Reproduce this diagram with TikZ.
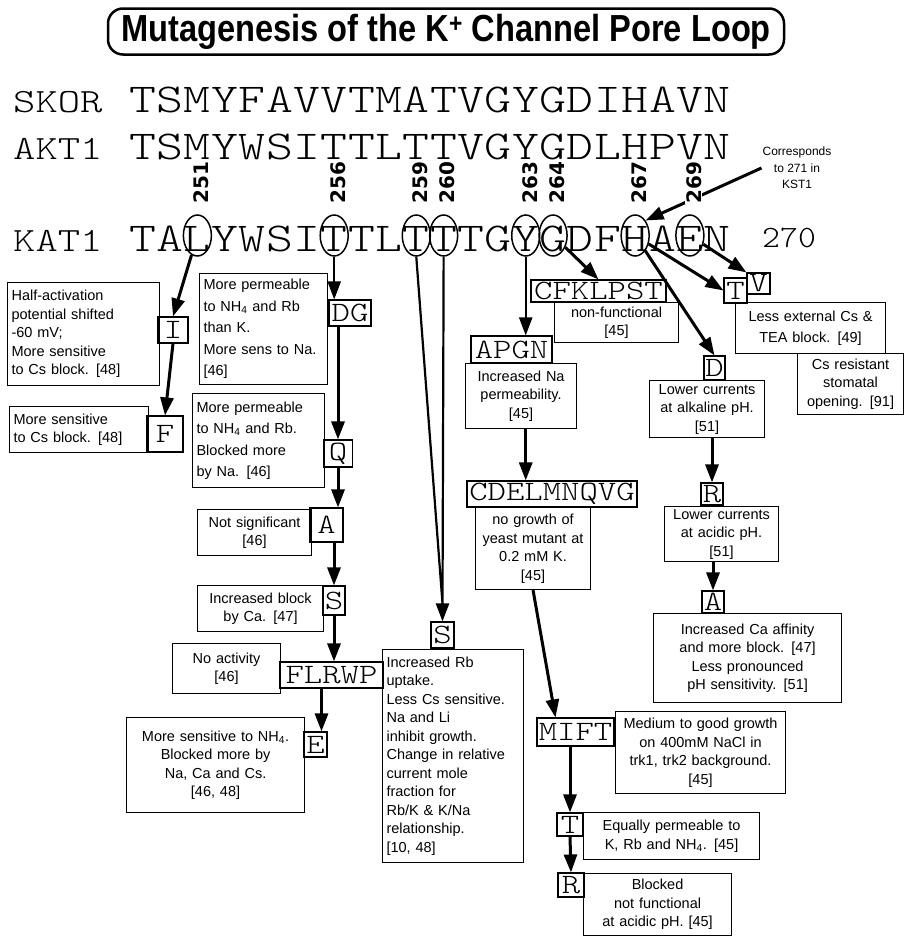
\documentclass[tikz,border=0pt]{standalone}
\usepackage{fontspec}
\usepackage{graphicx}
\setsansfont{Liberation Sans}
\newfontfamily\numfont{DejaVu Sans}
\newfontfamily\seqfont{lmmonolt10-regular.otf}
\usetikzlibrary{arrows.meta,shapes.geometric}
\newcommand\wide[1]{\scalebox{1.25}[1]{#1}}

\begin{document}
\begin{tikzpicture}[x=1pt, y=-1pt,
		res/.style={anchor=base, inner sep=0pt, font=\fontsize{41}{41}\selectfont\seqfont},
		rowname/.style={anchor=base west, inner sep=0pt, font=\fontsize{34}{34}\selectfont\seqfont},
		ring/.style={draw, ellipse, line width=1.5pt, minimum width=28pt, minimum height=41pt, inner sep=0pt},
		resnum/.style={rotate=90, anchor=west, inner sep=1pt, fill=white, font=\numfont\bfseries\fontsize{20}{20}\selectfont},
		mut/.style={draw, line width=1.1pt, inner sep=0pt, font=\fontsize{28}{28}\selectfont\seqfont},
		note/.style={draw, line width=1.1pt, inner xsep=4pt, inner ysep=2pt, anchor=north west, align=center, font=\sffamily\fontsize{14.5}{18.5}\selectfont},
		loose/.style={font=\sffamily\fontsize{14.5}{21.5}\selectfont},
		arr/.style={line width=3pt, -{Triangle[length=18pt, width=13pt]}},
		thinarr/.style={line width=2.2pt, -{Triangle[length=18pt, width=13pt]}}]
	\useasboundingbox (0,0) rectangle (905,937);
	% title
	\node[draw, line width=2.5pt, rounded corners=15pt, minimum width=676pt, minimum height=46pt, inner sep=0pt,
		font=\sffamily\bfseries\fontsize{37.7}{40}\selectfont] (title) at (446,31.5)
		{\scalebox{0.865}[1]{Mutagenesis of the K\textsuperscript{+} Channel Pore Loop}};
	% sequences
	\node[rowname] (skor) at (13,112) {\wide{SKOR}};
	\node[rowname] (akt) at (13,159) {\wide{AKT1}};
	\node[rowname] (kat) at (13,251) {\wide{KAT1}};
	\foreach \c [count=\i] in {T,S,M,Y,F,A,V,V,T,M,A,T,V,G,Y,G,D,I,H,A,V,N}
		\node[res] (skor\i) at ({129+27.36*(\i-0.5)}, 112) {\wide{\c}};
	\foreach \c [count=\i] in {T,S,M,Y,W,S,I,T,T,L,T,T,V,G,Y,G,D,L,H,P,V,N}
		\node[res] (akt\i) at ({129+27.36*(\i-0.5)}, 159) {\wide{\c}};
	\foreach \c [count=\i] in {T,A,L,Y,W,S,I,T,T,L,T,T,T,G,Y,G,D,F,H,A,E,N}
		\node[res] (kat\i) at ({129+27.36*(\i-0.5)}, 251) {\wide{\c}};
	\node[anchor=base west, inner sep=0pt, font=\fontsize{31}{31}\selectfont\seqfont] (last) at (762,247) {\scalebox{1.1}[1]{270}};
	% mutated residues
	\foreach \n in {251,256,259,260,263,264,267,269}
		\node[ring] (e\n) at ({129+27.36*(\n-248.5)}, 235.5) {};
	\node[align=center, inner sep=1pt, font=\sffamily\fontsize{12}{16.5}\selectfont] (corr) at (797,168) {Corresponds\\to 271 in\\KST1};
	\draw[arr] (corr.west) -- (e267.north east);
	\foreach \n in {251,256,259,260,263,264,267,269}
		\node[resnum] (l\n) at ([xshift=4pt, yshift=10pt]e\n.north) {\n};

	% part for 251
	\node[mut, minimum width=30pt, minimum height=26pt] (I251) at (173,330) {\wide{I}};
	\node[note, align=left, text width=144pt, minimum height=103pt] (nI251) at (7,282)
		{Half-activation\\potential shifted\\-60 mV;\\More sensitive\\to Cs block. [48]};
	\node[mut, minimum width=36pt, minimum height=36pt] (F251) at (165,434) {\wide{F}};
	\node[note, align=left, text width=131pt, minimum height=46pt] (nF251) at (9,406)
		{More sensitive\\to Cs block. [48]};
	\draw[arr] (e251) -- (I251.north);
	\draw[arr] (I251.south) -- (F251.north);

	% part for 256
	\node[mut, minimum width=42pt, minimum height=26pt] (DG256) at (350,313) {\wide{DG}};
	\node[note, loose, align=left, text width=120pt, minimum height=111pt] (nDG256) at (199,273)
		{More permeable\\to NH\textsubscript{4} and Rb\\than K.\\More sens to Na.\\{}[46]};
	\node[mut, minimum width=29pt, minimum height=27pt] (Q256) at (338,453.5) {\wide{Q}};
	\node[note, loose, align=left, text width=124pt, minimum height=94pt] (nQ256) at (192,393)
		{More permeable\\to NH\textsubscript{4} and Rb.\\Blocked more\\by Na. [46]};
	\node[mut, minimum width=33pt, minimum height=34pt] (A256) at (326.5,525) {\wide{A}};
	\node[note, text width=106pt, minimum height=46pt] (nA256) at (197,509) {Not significant\\{}[46]};
	\node[mut, minimum width=22pt, minimum height=29pt] (S256) at (334,600.5) {\wide{S}};
	\node[note, text width=118pt, minimum height=46pt] (nS256) at (197,585) {Increased block\\by Ca. [47]};
	\node[mut, minimum width=103pt, minimum height=26pt] (FLRWP256) at (331.5,675) {\wide{FLRWP}};
	\node[note, text width=100pt, minimum height=50pt] (nFLRWP256) at (172,643) {No activity\\{}[46]};
	\node[mut, minimum width=23pt, minimum height=25pt] (E256) at (315.5,744.5) {\wide{E}};
	\node[note, text width=170pt, minimum height=95pt] (nE256) at (126,717)
		{More sensitive to NH\textsubscript{4}.\\Blocked more by\\Na, Ca and Cs.\\{}[46, 48]};
	\coordinate (Etop) at ([xshift=6pt]E256.north);
	\draw[thinarr] (e256.south) -- (e256.south |- DG256.north);
	\draw[arr] (Q256.north |- DG256.south) -- (Q256.north);
	\draw[arr] (Q256.south) -- (Q256.south |- A256.north);
	\draw[arr] (S256.north |- A256.south) -- (S256.north);
	\draw[arr] (S256.south) -- (S256.south |- FLRWP256.north);
	\draw[arr] (Etop |- FLRWP256.south) -- (Etop);

	% part for 259 and 260
	\node[mut, minimum width=23pt, minimum height=26pt] (S259) at (442.5,635) {\wide{S}};
	\node[note, align=left, text width=133pt, minimum height=213pt] (nS259) at (382,649)
		{Increased Rb\\uptake.\\Less Cs sensitive.\\Na and Li\\inhibit growth.\\Change in relative\\current mole\\fraction for\\Rb/K \& K/Na\\relationship.\\{}[10, 48]};
	\coordinate (meet) at ([yshift=18pt]S259.north);
	\draw[line width=2.2pt] (e259.south) -- (meet) (e260.south) -- (meet);
	\draw[thinarr] (meet) -- (S259.north);

	% part for 263
	\node[mut, minimum width=81pt, minimum height=27pt] (APGN263) at (511.5,349.5) {\wide{APGN}};
	\node[note, text width=103pt, minimum height=65pt] (nAPGN263) at (465,363) {Increased Na\\permeability.\\{}[45]};
	\node[mut, minimum width=170pt, minimum height=26pt] (CDEL263) at (552,494) {\wide{CDELMNQVG}};
	\node[note, text width=107pt, minimum height=82pt] (nCDEL263) at (475,507)
		{no growth of\\yeast mutant at\\0.2 mM K.\\{}[45]};
	\node[mut, minimum width=77pt, minimum height=28pt] (MIFT263) at (575.5,732) {\wide{MIFT}};
	\node[note, text width=162pt, minimum height=82pt] (nMIFT263) at (615,711)
		{Medium to good growth\\on 400mM NaCl in\\trk1, trk2 background.\\{}[45]};
	\node[mut, minimum width=26pt, minimum height=23pt] (T263) at (570,824.5) {\wide{T}};
	\node[note, text width=168pt, minimum height=47pt] (nT263) at (583,812)
		{Equally permeable to\\K, Rb and NH\textsubscript{4}. [45]};
	\node[mut, minimum width=26pt, minimum height=24pt] (R263) at (571,885) {\wide{R}};
	\node[note, text width=140pt, minimum height=62pt] (nR263) at (583,873)
		{Blocked\\not functional\\at acidic pH. [45]};
	\draw[thinarr] (e263.south) -- (e263.south |- APGN263.north);
	\draw[arr] (e263 |- nAPGN263.south) -- (e263 |- CDEL263.north);
	\draw[arr] (nCDEL263.south) -- ([xshift=-20pt]MIFT263.north);
	\draw[arr] (T263.north |- MIFT263.south) -- (T263.north);
	\draw[arr] (T263.south) -- (R263.north);

	% part for 264
	\node[mut, minimum width=135pt, minimum height=22pt] (CFK264) at (598.5,291) {\wide{CFKLPST}};
	\node[note, text width=116pt, minimum height=40pt] (nCFK264) at (554,302) {non-functional\\{}[45]};
	\draw[arr] (e264) -- (CFK264.north);

	% part for 267
	\node[mut, minimum width=23pt, minimum height=25pt] (T267) at (735.5,290.5) {\wide{T}};
	\node[mut, minimum width=21pt, minimum height=24pt] (D267) at (714.5,368) {\wide{D}};
	\node[note, text width=107pt, minimum height=57pt] (nD267) at (649,380)
		{Lower currents\\at alkaline pH.\\{}[51]};
	\node[mut, minimum width=22pt, minimum height=22pt] (R267) at (712,494) {\wide{R}};
	\node[note, text width=106pt, minimum height=55pt] (nR267) at (664,506)
		{Lower currents\\at acidic pH.\\{}[51]};
	\node[mut, minimum width=22pt, minimum height=22pt] (A267) at (713,602) {\wide{A}};
	\node[note, text width=180pt, minimum height=89pt] (nA267) at (653,613)
		{Increased Ca affinity\\and more block. [47]\\Less pronounced\\pH sensitivity. [51]};
	\draw[arr] (e267) -- (T267.west);
	\draw[arr] (e267) -- (D267.north);
	\draw[arr] (R267.north |- nD267.south) -- (R267.north);
	\draw[arr] (A267.north |- nR267.south) -- (A267.north);

	% part for 269
	\node[mut, minimum width=23pt, minimum height=21pt] (V269) at (758.5,283.5) {\wide{V}};
	\node[note, loose, text width=142pt, minimum height=51pt] (nV269) at (735,302)
		{Less external Cs \&\\TEA block. [49]};
	\node[note, text width=98pt, minimum height=61pt] (nCs269) at (797,353)
		{Cs resistant\\stomatal\\opening. [91]};
	\draw[arr] (e269) -- (V269.north west);
\end{tikzpicture}
\end{document}
